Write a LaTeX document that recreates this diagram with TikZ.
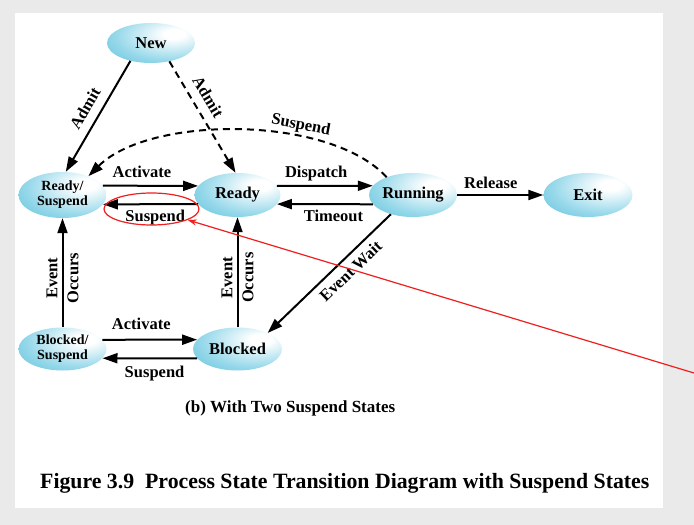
\documentclass[tikz,border=0pt]{standalone}
\usepackage{fontspec}
\setmainfont{Liberation Serif}
\usetikzlibrary{arrows.meta,shapes.geometric}
\definecolor{bgray}{RGB}{234,234,234}
\definecolor{cyanA}{RGB}{66,182,210}
\definecolor{cyanB}{RGB}{150,216,234}
\definecolor{hlred}{RGB}{240,30,30}
\pgfdeclareradialshading{ballcyan}{\pgfpoint{14bp}{12bp}}{color(0bp)=(white); color(6bp)=(white); color(30bp)=(cyanB); color(56bp)=(cyanA); color(100bp)=(cyanA)}
\tikzset{
  state/.style={ellipse, shading=ballcyan, minimum width=88pt, minimum height=44pt,
    inner sep=0pt, align=center, font=\fontsize{16.5}{18}\selectfont\bfseries},
  statetwo/.style={state, font=\fontsize{14}{15}\selectfont\bfseries},
  tr/.style={line width=2pt, -{Triangle[length=15pt,width=10pt]}},
  dsh/.style={tr, dash pattern=on 7pt off 5pt},
  lbl/.style={font=\fontsize{16.5}{21}\selectfont\bfseries, inner sep=2pt, align=center,
    text height=11.5pt, text depth=3.5pt},
  redarr/.style={draw=hlred, line width=1.2pt, -{Stealth[length=9pt,width=6pt]}},
}
\begin{document}
\begin{tikzpicture}[x=1pt,y=-1pt]
\useasboundingbox (0,0) rectangle (694,525);
\fill[bgray] (0,0) rectangle (694,525);
\fill[white] (15,13) rectangle (663,508);

\node[state, minimum height=40pt] (new) at (151,43) {New};
\node[statetwo, minimum height=46pt] (rs) at (62.5,195) {Ready/\\Suspend};
\node[state, minimum width=86pt] (rd) at (237.5,195) {Ready};
\node[state] (run) at (413,195) {Running};
\node[state, minimum width=89pt] (ex) at (588,195) {Exit};
\node[statetwo, minimum height=43pt] (bs) at (62.5,349) {Blocked/\\Suspend};
\node[state, minimum width=89pt, minimum height=43pt] (bl) at (237.5,349) {Blocked};

\draw[tr] (new.221) -- node[lbl, sloped, above=3pt, pos=0.5] {Admit} (rs.82);
\draw[dsh] (new.-45) -- node[lbl, sloped, above=3pt, pos=0.39] {Admit} (rd.95);
\draw[dsh] (run.146) .. controls (330,115) and (150,115) .. node[lbl, sloped, above=0pt, pos=0.33] {Suspend} (rs.36);
\draw[tr] (rs.13) -- node[lbl, above=2pt, pos=0.41] {Activate} (rd.167);
\draw[tr] (rd.193) -- node[lbl, below=2.5pt, pos=0.45] {Suspend} (rs.-13);
\draw[tr] (rd.13) -- node[lbl, above=2pt, pos=0.41] {Dispatch} (run.167);
\draw[tr] (run.193) -- node[lbl, below=3pt, pos=0.41] {Timeout} (rd.-13);
\draw[tr] (run) -- node[lbl, above=0pt, pos=0.39] {Release} (ex);
\draw[tr] (run.221) -- node[lbl, sloped, below=4pt, pos=0.4] {Event Wait} (bl.28);
\draw[tr] (bs) -- node[lbl, rotate=90, pos=0.45, text height=, text depth=] {Event\\Occurs} (rs);
\draw[tr] (bl) -- node[lbl, rotate=90, pos=0.45, text height=, text depth=] {Event\\Occurs} (rd);
\draw[tr] (bs.13) -- node[lbl, above=4pt, pos=0.41] {Activate} (bl.167);
\draw[tr] (bl.193) -- node[lbl, below=4.5pt, pos=0.45] {Suspend} (bs.-13);

\node[draw=hlred, line width=1.2pt, ellipse, minimum width=95pt, minimum height=32pt, inner sep=0pt] (hl) at (151.5,209) {};
\coordinate (redstart) at (694,373);
\draw[redarr] (redstart) -- (hl);

\node[anchor=base west, inner sep=0pt, font=\fontsize{17}{20}\selectfont\bfseries] (sub) at (185,412) {(b) With Two Suspend States};
\node[anchor=base west, inner sep=0pt, font=\fontsize{21.8}{26}\selectfont\bfseries] (cap) at (40,488) {Figure 3.9\hspace{0.5em}Process State Transition Diagram with Suspend States};
\end{tikzpicture}
\end{document}
